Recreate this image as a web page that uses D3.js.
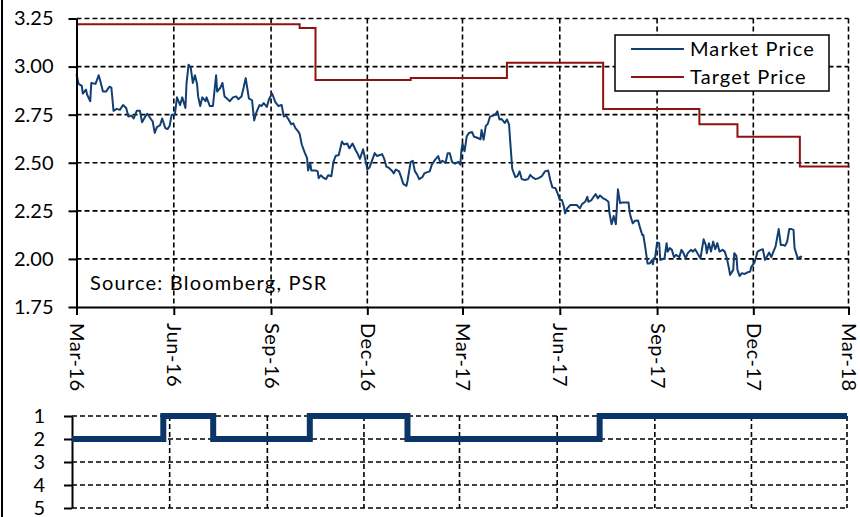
<!DOCTYPE html>
<html>
<head>
<meta charset="utf-8">
<script src="https://cdn.jsdelivr.net/npm/d3@7"></script>
<style>
  body { margin: 0; background: #fff; }
  svg { display: block; font-family: Lato, "Open Sans", sans-serif; }
</style>
</head>
<body>
<svg id="chart" width="860" height="517"></svg>
<script>
// market price
const priceData = [
  ["2016-03-01",2.96],["2016-03-03",2.91],["2016-03-06",2.90],["2016-03-07",2.86],["2016-03-10",2.88],
  ["2016-03-11",2.855],["2016-03-14",2.82],["2016-03-15",2.915],["2016-03-19",2.91],["2016-03-22",2.955],
  ["2016-03-24",2.915],["2016-03-26",2.87],["2016-03-29",2.87],["2016-04-01",2.895],["2016-04-03",2.89],
  ["2016-04-05",2.77],["2016-04-08",2.78],["2016-04-11",2.775],["2016-04-14",2.80],["2016-04-17",2.785],
  ["2016-04-19",2.74],["2016-04-22",2.745],["2016-04-24",2.73],["2016-04-27",2.77],["2016-04-30",2.77],
  ["2016-05-02",2.71],["2016-05-05",2.74],["2016-05-07",2.755],["2016-05-10",2.73],["2016-05-12",2.715],
  ["2016-05-14",2.655],["2016-05-16",2.685],["2016-05-19",2.695],["2016-05-21",2.73],["2016-05-24",2.68],
  ["2016-05-26",2.675],["2016-05-28",2.69],["2016-05-30",2.75],["2016-06-02",2.75],["2016-06-04",2.84],
  ["2016-06-07",2.80],["2016-06-09",2.84],["2016-06-12",2.785],["2016-06-13",2.91],["2016-06-15",3.01],
  ["2016-06-17",2.995],["2016-06-19",2.915],["2016-06-21",2.955],["2016-06-23",2.91],["2016-06-24",2.845],
  ["2016-06-26",2.795],["2016-06-28",2.84],["2016-07-01",2.82],["2016-07-02",2.84],["2016-07-05",2.795],
  ["2016-07-08",2.795],["2016-07-11",2.955],["2016-07-12",2.87],["2016-07-15",2.89],["2016-07-17",2.915],
  ["2016-07-19",2.845],["2016-07-21",2.835],["2016-07-24",2.82],["2016-07-27",2.84],["2016-07-30",2.845],
  ["2016-08-01",2.83],["2016-08-04",2.845],["2016-08-06",2.89],["2016-08-08",2.94],["2016-08-11",2.835],
  ["2016-08-14",2.825],["2016-08-16",2.72],["2016-08-18",2.76],["2016-08-21",2.80],["2016-08-23",2.795],
  ["2016-08-25",2.81],["2016-08-28",2.79],["2016-08-30",2.83],["2016-09-02",2.86],["2016-09-05",2.815],
  ["2016-09-08",2.795],["2016-09-11",2.80],["2016-09-13",2.74],["2016-09-15",2.745],["2016-09-17",2.73],
  ["2016-09-20",2.70],["2016-09-22",2.705],["2016-09-24",2.68],["2016-09-27",2.66],["2016-09-28",2.65],
  ["2016-09-30",2.595],["2016-10-03",2.55],["2016-10-05",2.525],["2016-10-06",2.46],["2016-10-08",2.50],
  ["2016-10-09",2.46],["2016-10-13",2.46],["2016-10-15",2.455],["2016-10-16",2.42],["2016-10-18",2.435],
  ["2016-10-21",2.42],["2016-10-23",2.415],["2016-10-25",2.435],["2016-10-28",2.43],["2016-10-30",2.505],
  ["2016-11-01",2.535],["2016-11-04",2.54],["2016-11-07",2.61],["2016-11-09",2.595],["2016-11-12",2.60],
  ["2016-11-14",2.575],["2016-11-17",2.60],["2016-11-20",2.565],["2016-11-22",2.545],["2016-11-24",2.52],
  ["2016-11-27",2.57],["2016-11-29",2.52],["2016-12-01",2.465],["2016-12-03",2.475],["2016-12-05",2.505],
  ["2016-12-08",2.55],["2016-12-10",2.535],["2016-12-13",2.54],["2016-12-15",2.545],["2016-12-17",2.52],
  ["2016-12-19",2.48],["2016-12-21",2.475],["2016-12-24",2.46],["2016-12-26",2.445],["2016-12-28",2.465],
  ["2016-12-31",2.455],["2017-01-02",2.425],["2017-01-04",2.39],["2017-01-07",2.38],["2017-01-08",2.405],
  ["2017-01-11",2.505],["2017-01-13",2.51],["2017-01-15",2.455],["2017-01-17",2.44],["2017-01-19",2.415],
  ["2017-01-22",2.425],["2017-01-24",2.445],["2017-01-26",2.45],["2017-01-29",2.455],["2017-01-31",2.49],
  ["2017-02-03",2.515],["2017-02-06",2.535],["2017-02-08",2.50],["2017-02-10",2.51],["2017-02-13",2.50],
  ["2017-02-15",2.55],["2017-02-17",2.55],["2017-02-19",2.505],["2017-02-22",2.495],["2017-02-25",2.505],
  ["2017-02-27",2.49],["2017-02-28",2.567],["2017-03-01",2.60],["2017-03-03",2.56],["2017-03-05",2.637],
  ["2017-03-07",2.655],["2017-03-10",2.66],["2017-03-12",2.635],["2017-03-15",2.63],["2017-03-18",2.622],
  ["2017-03-19",2.67],["2017-03-21",2.62],["2017-03-23",2.69],["2017-03-25",2.703],["2017-03-27",2.74],
  ["2017-03-30",2.745],["2017-04-01",2.75],["2017-04-03",2.767],["2017-04-05",2.725],["2017-04-07",2.727],
  ["2017-04-10",2.707],["2017-04-12",2.725],["2017-04-14",2.70],["2017-04-15",2.62],["2017-04-17",2.47],
  ["2017-04-18",2.454],["2017-04-20",2.425],["2017-04-22",2.43],["2017-04-24",2.455],["2017-04-26",2.415],
  ["2017-04-29",2.41],["2017-05-02",2.415],["2017-05-04",2.437],["2017-05-06",2.425],["2017-05-09",2.415],
  ["2017-05-12",2.42],["2017-05-15",2.43],["2017-05-18",2.455],["2017-05-21",2.46],["2017-05-23",2.41],
  ["2017-05-25",2.372],["2017-05-28",2.367],["2017-05-30",2.34],["2017-06-01",2.306],["2017-06-03",2.306],
  ["2017-06-05",2.27],["2017-06-06",2.237],["2017-06-08",2.263],["2017-06-11",2.28],["2017-06-14",2.28],
  ["2017-06-17",2.28],["2017-06-20",2.263],["2017-06-22",2.285],["2017-06-25",2.297],["2017-06-27",2.323],
  ["2017-06-28",2.297],["2017-07-01",2.306],["2017-07-03",2.323],["2017-07-05",2.337],["2017-07-07",2.315],
  ["2017-07-09",2.33],["2017-07-12",2.315],["2017-07-14",2.31],["2017-07-17",2.297],["2017-07-18",2.237],
  ["2017-07-20",2.18],["2017-07-22",2.223],["2017-07-24",2.18],["2017-07-26",2.362],["2017-07-28",2.29],
  ["2017-07-30",2.293],["2017-08-02",2.293],["2017-08-05",2.293],["2017-08-06",2.245],["2017-08-07",2.22],
  ["2017-08-09",2.185],["2017-08-11",2.198],["2017-08-14",2.20],["2017-08-16",2.16],["2017-08-18",2.124],
  ["2017-08-19",2.124],["2017-08-21",2.054],["2017-08-23",1.976],["2017-08-25",1.976],["2017-08-27",1.993],
  ["2017-08-28",1.972],["2017-08-29",2.003],["2017-08-30",2.003],["2017-09-01",2.085],["2017-09-03",2.082],
  ["2017-09-04",1.995],["2017-09-06",1.998],["2017-09-08",2.003],["2017-09-10",2.082],["2017-09-11",2.038],
  ["2017-09-13",2.056],["2017-09-15",2.047],["2017-09-17",2.009],["2017-09-19",2.021],["2017-09-22",2.009],
  ["2017-09-24",2.047],["2017-09-26",2.03],["2017-09-28",2.003],["2017-09-30",2.03],["2017-10-03",2.047],
  ["2017-10-05",2.038],["2017-10-07",2.05],["2017-10-10",2.021],["2017-10-12",2.003],["2017-10-15",2.102],
  ["2017-10-17",2.073],["2017-10-18",2.03],["2017-10-20",2.082],["2017-10-22",2.038],["2017-10-24",2.09],
  ["2017-10-26",2.05],["2017-10-28",2.082],["2017-10-30",2.038],["2017-11-02",2.047],["2017-11-04",2.038],
  ["2017-11-06",2.003],["2017-11-08",1.95],["2017-11-09",1.917],["2017-11-12",1.943],["2017-11-13",2.03],
  ["2017-11-15",2.016],["2017-11-16",1.943],["2017-11-18",1.911],["2017-11-20",1.925],["2017-11-23",1.922],
  ["2017-11-25",1.929],["2017-11-28",1.934],["2017-11-29",1.957],["2017-12-02",1.981],["2017-12-03",1.998],
  ["2017-12-05",2.038],["2017-12-08",2.047],["2017-12-10",2.05],["2017-12-12",1.995],["2017-12-13",2.003],
  ["2017-12-16",2.033],["2017-12-18",2.009],["2017-12-20",2.038],["2017-12-22",2.064],["2017-12-24",2.125],
  ["2017-12-25",2.155],["2017-12-27",2.073],["2017-12-29",2.073],["2017-12-31",2.068],["2018-01-02",2.09],
  ["2018-01-04",2.155],["2018-01-06",2.155],["2018-01-08",2.151],["2018-01-09",2.056],["2018-01-11",2.021],
  ["2018-01-12",2.003],["2018-01-15",2.012],["2018-01-16",2.009]
];

// target price steps
const targetData = [
  ["2016-03-01",3.22],["2016-09-28",3.20],["2016-10-13",2.93],["2017-01-11",2.94],
  ["2017-04-12",3.02],["2017-07-12",2.78],["2017-10-11",2.70],["2017-11-16",2.635],
  ["2018-01-14",2.48],["2018-03-02",2.48]
];

// rating (1 = best), step series
const ratingData = [
  ["2016-03-01",2],["2016-05-26",1],["2016-07-12",2],["2016-10-11",1],
  ["2017-01-11",2],["2017-07-11",1],["2018-03-01",1]
];

const tickDates = ["2016-03-01","2016-06-01","2016-09-01","2016-12-01","2017-03-01",
  "2017-06-01","2017-09-01","2017-12-01","2018-03-01"];
const priceTicks = [1.75, 2.00, 2.25, 2.50, 2.75, 3.00, 3.25];
const ratingTicks = [1, 2, 3, 4, 5];
const seriesNames = ["Market Price", "Target Price"];
const seriesColors = ["#123f72", "#8e1212"];
const sourceNote = "Source: Bloomberg, PSR";

const parse = d3.timeParse("%Y-%m-%d");
const dates = tickDates.map(parse);
const price = priceData.map(d => ({ date: parse(d[0]), value: d[1] }));
const target = targetData.map(d => ({ date: parse(d[0]), value: d[1] }));
const rating = ratingData.map(d => ({ date: parse(d[0]), value: d[1] }));

const svg = d3.select("#chart");
const fontSize = 20;
const dash = "5,3";
const gridWidth = 1.6;

// ---- top panel ----
const x = d3.scaleTime()
  .domain([dates[0], dates[dates.length - 1]])
  .range([76.5, 848.5]);
const y = d3.scaleLinear().domain([1.75, 3.25]).range([307, 18.5]);

const grid = svg.append("g").attr("stroke", "#000").attr("stroke-width", gridWidth)
  .attr("stroke-dasharray", dash).attr("fill", "none");

grid.selectAll("line.h")
  .data(priceTicks.slice(1))
  .enter().append("line")
  .attr("x1", x.range()[0]).attr("x2", x.range()[1])
  .attr("y1", d => y(d)).attr("y2", d => y(d));

grid.selectAll("line.v")
  .data(dates.slice(1))
  .enter().append("line")
  .attr("x1", d => x(d)).attr("x2", d => x(d))
  .attr("y1", y.range()[1]).attr("y2", y.range()[0]);

svg.append("path")
  .datum(target)
  .attr("fill", "none")
  .attr("stroke", seriesColors[1])
  .attr("stroke-width", 2)
  .attr("d", d3.line().curve(d3.curveStepAfter).x(d => x(d.date)).y(d => y(d.value)));

svg.append("path")
  .datum(price)
  .attr("fill", "none")
  .attr("stroke", seriesColors[0])
  .attr("stroke-width", 2)
  .attr("stroke-linejoin", "round")
  .attr("d", d3.line().x(d => x(d.date)).y(d => y(d.value)));

// axes
const yAxis = svg.append("g")
  .attr("transform", `translate(${x.range()[0]},0)`)
  .call(d3.axisLeft(y).tickValues(priceTicks).tickSize(8).tickSizeOuter(0)
    .tickPadding(15).tickFormat(d3.format(".2f")));

const xAxis = svg.append("g")
  .attr("transform", `translate(0,${y.range()[0]})`)
  .call(d3.axisBottom(x).tickValues(dates).tickSize(8).tickSizeOuter(0)
    .tickFormat(d3.timeFormat("%b-%y")));

xAxis.selectAll("text")
  .attr("transform", "rotate(90)")
  .attr("x", 16)
  .attr("y", 0)
  .attr("dy", "0.35em")
  .style("text-anchor", "start")
  .style("letter-spacing", "0.5px");

[yAxis, xAxis].forEach(a => {
  a.selectAll("path, line").attr("stroke", "#000").attr("stroke-width", 2);
  a.selectAll("text").attr("fill", "#000").style("font-size", fontSize + "px")
    .style("font-family", "Lato, 'Open Sans', sans-serif");
});

// legend
const legend = svg.append("g").attr("transform", "translate(615,35)");
legend.append("rect")
  .attr("width", 214).attr("height", 56)
  .attr("fill", "#fff").attr("stroke", "#000").attr("stroke-width", 1.5);
seriesNames.forEach((name, i) => {
  const ly = 14 + i * 28;
  legend.append("line")
    .attr("x1", 16).attr("x2", 69).attr("y1", ly).attr("y2", ly)
    .attr("stroke", seriesColors[i]).attr("stroke-width", 2);
  legend.append("text")
    .attr("x", 75).attr("y", ly).attr("dy", "0.35em")
    .style("font-size", fontSize + "px")
    .style("letter-spacing", "1.1px")
    .text(name);
});

svg.append("text")
  .attr("x", 90).attr("y", 290)
  .style("font-size", fontSize + "px")
  .style("letter-spacing", "1.2px")
  .text(sourceNote);

// ---- bottom panel (rating) ----
const x2 = d3.scaleTime()
  .domain([dates[0], dates[dates.length - 1]])
  .range([72, 847]);
const y2 = d3.scaleLinear().domain([1, 5]).range([416, 508]);

const grid2 = svg.append("g").attr("stroke", "#000").attr("stroke-width", gridWidth)
  .attr("stroke-dasharray", dash).attr("fill", "none");

grid2.selectAll("line.h")
  .data(ratingTicks)
  .enter().append("line")
  .attr("x1", x2.range()[0]).attr("x2", x2.range()[1])
  .attr("y1", d => y2(d)).attr("y2", d => y2(d));

grid2.selectAll("line.v")
  .data(dates.slice(1))
  .enter().append("line")
  .attr("x1", d => x2(d)).attr("x2", d => x2(d))
  .attr("y1", y2.range()[0]).attr("y2", y2.range()[1]);

const y2Axis = svg.append("g")
  .attr("transform", `translate(${x2.range()[0]},0)`)
  .call(d3.axisLeft(y2).tickValues(ratingTicks).tickSize(8).tickSizeOuter(0)
    .tickPadding(19).tickFormat(d3.format("d")));
y2Axis.selectAll("path, line").attr("stroke", "#000").attr("stroke-width", 2);
y2Axis.selectAll("text").attr("fill", "#000").style("font-size", fontSize + "px")
  .style("font-family", "Lato, 'Open Sans', sans-serif");

svg.append("path")
  .datum(rating)
  .attr("fill", "none")
  .attr("stroke", "#0b3566")
  .attr("stroke-width", 6)
  .attr("d", d3.line().curve(d3.curveStepAfter).x(d => x2(d.date)).y(d => y2(d.value)));

// outer frame
svg.append("line")
  .attr("x1", 2).attr("x2", 2).attr("y1", 0).attr("y2", 517)
  .attr("stroke", "#000").attr("stroke-width", 2);
</script>
</body>
</html>
